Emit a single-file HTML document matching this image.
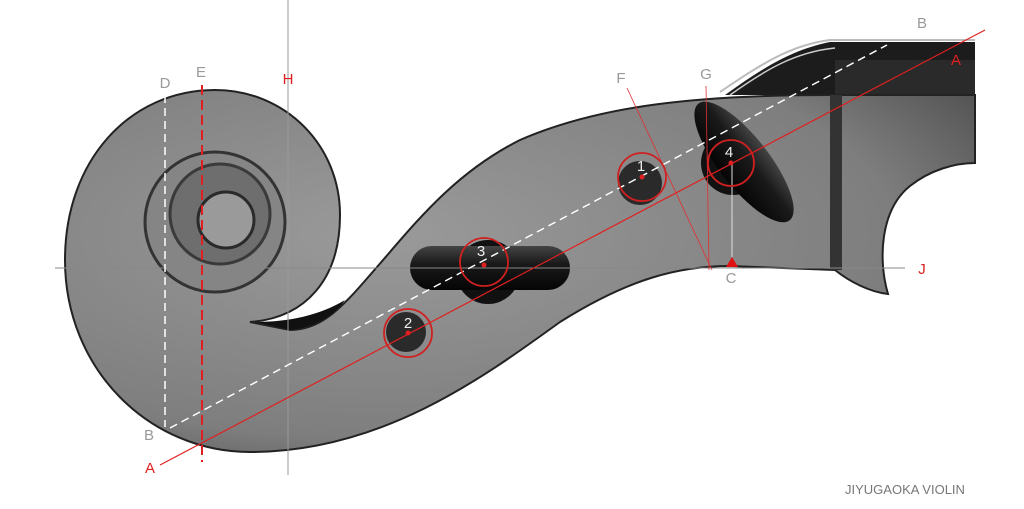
<!DOCTYPE html>
<html><head><meta charset="utf-8"><style>
html,body{margin:0;padding:0;background:#fff;}
svg{display:block;}
text{font-family:"Liberation Sans",sans-serif;}
</style></head><body>
<svg width="1024" height="509" viewBox="0 0 1024 509" xmlns="http://www.w3.org/2000/svg">
<defs>
<radialGradient id="g1" cx="0.35" cy="0.4" r="0.8">
<stop offset="0" stop-color="#9a9a9a"/><stop offset="0.7" stop-color="#7e7e7e"/><stop offset="1" stop-color="#4a4a4a"/>
</radialGradient>
<linearGradient id="pg" x1="0" y1="0" x2="0" y2="1">
<stop offset="0" stop-color="#444"/><stop offset="0.4" stop-color="#1a1a1a"/><stop offset="1" stop-color="#050505"/>
</linearGradient>
</defs>
<path d="M725,95 C760,70 790,50 830,42 L975,42 L975,95 Z" fill="#1c1c1c"/>
<path d="M720,92 C760,65 790,45 830,40 L975,40" stroke="#bbb" stroke-width="2" fill="none"/>
<path d="M730,95 C765,70 795,52 835,48" stroke="#ccc" stroke-width="1.5" fill="none"/>
<rect x="835" y="60" width="140" height="35" fill="#2a2a2a"/>
<path d="M215,90 C130,90 65,160 65,260 C65,370 150,452 250,452 C380,452 480,380 560,322 C630,278 680,266 730,266 L835,270 C850,282 870,292 888,294 C878,260 880,210 910,186 C930,170 955,163 975,163 L975,95 L830,95 C700,95 600,105 520,140 C450,175 410,230 370,275 C340,310 320,330 290,330 L250,322 C305,318 340,280 340,215 C340,145 285,90 215,90 Z" fill="url(#g1)" stroke="#222" stroke-width="2"/>
<rect x="830" y="95" width="12" height="175" fill="#333"/>
<path d="M255,322 L290,330 C315,328 335,315 345,300 C320,315 290,322 255,322Z" fill="#111"/>
<circle cx="215" cy="222" r="70" fill="#858585" stroke="#333" stroke-width="3"/>
<circle cx="220" cy="214" r="50" fill="#6e6e6e" stroke="#3a3a3a" stroke-width="3"/>
<circle cx="226" cy="220" r="28" fill="#9a9a9a" stroke="#2a2a2a" stroke-width="3"/>
<circle cx="640" cy="183" r="22" fill="#2a2a2a"/>
<circle cx="406" cy="332" r="20" fill="#2a2a2a"/>
<circle cx="488" cy="272" r="32" fill="#111"/>
<rect x="410" y="246" width="160" height="44" rx="22" fill="url(#pg)"/>
<circle cx="733" cy="163" r="32" fill="#111"/>
<ellipse cx="744" cy="162" rx="74" ry="25" transform="rotate(52 744 162)" fill="url(#pg)"/>
<line x1="288" y1="0" x2="288" y2="475" stroke="#999" stroke-width="1"/>
<line x1="55" y1="268" x2="905" y2="268" stroke="#888" stroke-width="1"/>
<line x1="165" y1="95" x2="165" y2="427" stroke="#fff" stroke-width="1.5" stroke-dasharray="8,5"/>
<line x1="202" y1="85" x2="202" y2="462" stroke="#e02020" stroke-width="2" stroke-dasharray="10,5"/>
<line x1="170" y1="428" x2="887" y2="45" stroke="#fff" stroke-width="1.5" stroke-dasharray="8,5"/>
<line x1="160" y1="465" x2="985" y2="30" stroke="#e02020" stroke-width="1.2"/>
<line x1="627" y1="88" x2="712" y2="270" stroke="#e03030" stroke-width="0.8"/>
<line x1="706" y1="86" x2="709" y2="270" stroke="#e03030" stroke-width="0.8"/>
<line x1="732" y1="163" x2="732" y2="257" stroke="#ddd" stroke-width="1"/>
<polygon points="732,257 726,267 738,267" fill="#e01010"/>
<g fill="none" stroke="#d02020" stroke-width="1.8">
<circle cx="642" cy="177" r="24"/><circle cx="408" cy="333" r="24"/>
<circle cx="484" cy="262" r="24"/><circle cx="731" cy="163" r="23"/>
</g>
<g fill="#e02020"><circle cx="642" cy="177" r="2.5"/><circle cx="408" cy="333" r="2.5"/><circle cx="484" cy="265" r="2.5"/><circle cx="731" cy="163" r="2.5"/></g>
<g fill="#eee" font-size="15" text-anchor="middle">
<text x="641" y="171">1</text><text x="408" y="328">2</text><text x="481" y="256">3</text><text x="729" y="157">4</text>
</g>
<g font-size="15" text-anchor="middle">
<text x="165" y="88" fill="#999">D</text>
<text x="201" y="77" fill="#999">E</text>
<text x="288" y="84" fill="#e02020">H</text>
<text x="149" y="440" fill="#999">B</text>
<text x="150" y="473" fill="#e02020">A</text>
<text x="922" y="28" fill="#999">B</text>
<text x="956" y="65" fill="#e02020">A</text>
<text x="621" y="83" fill="#999">F</text>
<text x="706" y="79" fill="#999">G</text>
<text x="731" y="283" fill="#999">C</text>
<text x="922" y="274" fill="#e02020">J</text>
</g>
<text x="845" y="494" font-size="13" fill="#777">JIYUGAOKA VIOLIN</text>
</svg>
</body></html>
